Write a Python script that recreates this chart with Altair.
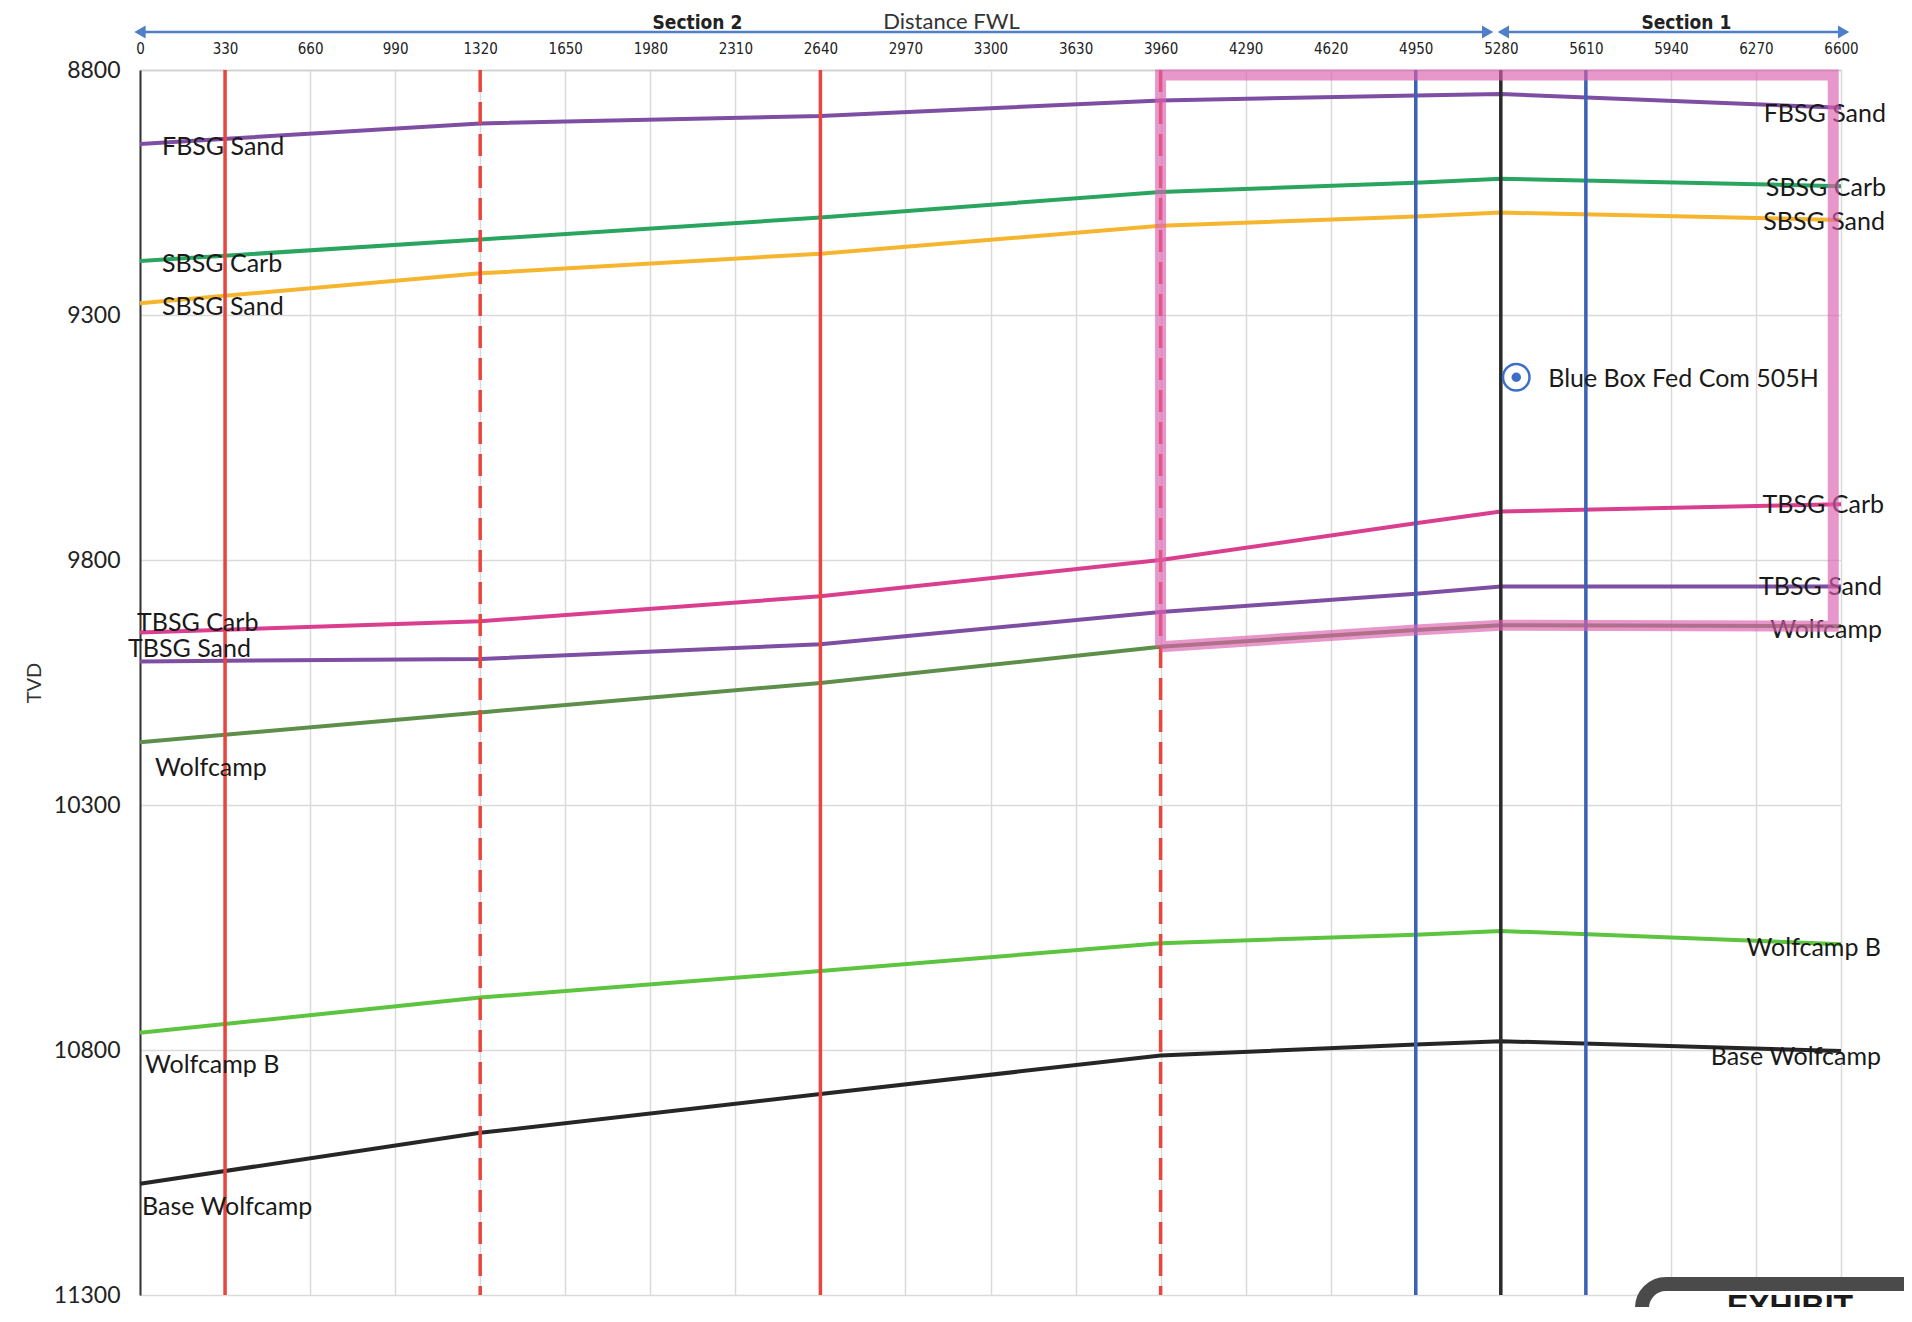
import altair as alt
import pandas as pd

# ---------------- data ----------------
x_stations = [0, 1320, 2640, 3960, 4950, 5280, 6600]

horizons = ["FBSG Sand", "SBSG Carb", "SBSG Sand", "TBSG Carb",
            "TBSG Sand", "Wolfcamp", "Wolfcamp B", "Base Wolfcamp"]

fbsg_sand     = [8951, 8909, 8894, 8862, 8852, 8849, 8877]
sbsg_carb     = [9190, 9146, 9101, 9049, 9030, 9022, 9037]
sbsg_sand     = [9276, 9215, 9175, 9118, 9099, 9091, 9106]
tbsg_carb     = [9948, 9925, 9874, 9800, 9725, 9701, 9686]
tbsg_sand     = [10007, 10002, 9972, 9906, 9869, 9854, 9854]
wolfcamp      = [10172, 10111, 10051, 9977, 9943, 9933, 9935]
wolfcamp_b    = [10765, 10693, 10639, 10582, 10565, 10557, 10584]
base_wolfcamp = [11073, 10969, 10890, 10811, 10789, 10782, 10802]

series = [fbsg_sand, sbsg_carb, sbsg_sand, tbsg_carb,
          tbsg_sand, wolfcamp, wolfcamp_b, base_wolfcamp]

horizon_colors = ["#7e4ea3", "#2aa55f", "#f5b52f", "#d93f8e",
                  "#7e4ea3", "#5e8f4a", "#5cc43e", "#262626"]

red_solid_x = [330, 2640]
red_dashed_x = [1320, 3960]
blue_x = [4950, 5610]
black_x = [5280]

x_ticks = list(range(0, 6601, 330))
y_ticks = [8800, 9300, 9800, 10300, 10800, 11300]

# highlighted box: left/right edges and top, bottom follows the Wolfcamp top
box_left, box_right, box_top = 3960, 6570, 8810

well_name = ["Blue Box Fed Com 505H"]
well_x = [5340]
well_tvd = [9427]

sections = ["Section 2", "Section 1"]
section_start = [0, 5290]
section_end = [5229, 6610]
section_label_x = [2163, 6000]

# label offsets (style)
left_off = [(22, 3), (22, 3), (22, 4), (-3, -10), (-12, -12), (15, 26), (5, 32), (2, 23)]
right_off = [(45, 6), (45, 2), (44, 2), (43, 1), (41, 1), (41, 4), (40, 4), (40, 6)]

# ---------------- chart ----------------
W, H = 1701, 1225
LABEL_FONT = "Lato"

rows = []
for name, vals in zip(horizons, series):
    for x, v in zip(x_stations, vals):
        rows.append({"name": name, "x": x, "tvd": v})
df = pd.DataFrame(rows)

xs = alt.Scale(domain=[0, 6600], nice=False, zero=False)
ys = alt.Scale(domain=[8800, 11300], reverse=True, nice=False, zero=False)

top_axis = alt.Axis(
    orient="top", values=x_ticks, grid=True, gridColor="#dadada", gridWidth=1.5,
    ticks=False, domain=True, domainColor="#cfcfcf", domainWidth=1.5,
    labelFont="DejaVu Sans Condensed", labelFontSize=15, labelColor="#222",
    labelPadding=14, labelFlush=False, format="d",
    title="Distance FWL", titleFont=LABEL_FONT, titleFontSize=22,
    titleFontWeight="normal", titleColor="#333", titleX=811, titleY=-49,
    titleBaseline="middle",
)
left_axis = alt.Axis(
    orient="left", values=y_ticks, grid=True, gridColor="#dadada", gridWidth=1.5,
    ticks=False, domain=True, domainColor="#333", domainWidth=2,
    labelFont=LABEL_FONT, labelFontSize=23, labelColor="#222", labelPadding=20,
    labelFlush=False, format="d",
    title="TVD", titleFont=LABEL_FONT, titleFontSize=20, titleFontWeight="normal",
    titleColor="#333", titleX=-106, titleBaseline="middle",
)


def ex(field):
    return alt.X(field, scale=xs, axis=top_axis)


def ey(field):
    return alt.Y(field, scale=ys, axis=left_axis)


lines = alt.Chart(df).mark_line(strokeWidth=4).encode(
    x=ex("x:Q"),
    y=ey("tvd:Q"),
    color=alt.Color("name:N", scale=alt.Scale(domain=horizons, range=horizon_colors), legend=None),
    detail="name:N",
)


def vrules(xvals, color, dash=None):
    d = pd.DataFrame({"x": xvals})
    kw = dict(color=color, strokeWidth=3.5)
    if dash:
        kw["strokeDash"] = dash
    return alt.Chart(d).mark_rule(**kw).encode(x=ex("x:Q"))


layers = [lines,
          vrules(red_solid_x, "#e8453c"),
          vrules(red_dashed_x, "#e8453c", [22, 10]),
          vrules(blue_x, "#3b62b5"),
          vrules(black_x, "#2b2b2b")]

for name, vals, lo, ro in zip(horizons, series, left_off, right_off):
    dl = pd.DataFrame({"x": [x_stations[0]], "tvd": [vals[0]], "label": [name]})
    dr = pd.DataFrame({"x": [x_stations[-1]], "tvd": [vals[-1]], "label": [name]})
    layers.append(alt.Chart(dl).mark_text(
        align="left", baseline="middle", dx=lo[0], dy=lo[1], font=LABEL_FONT,
        fontSize=25, color="#1a1a1a").encode(
        x=ex("x:Q"), y=ey("tvd:Q"), text="label:N"))
    layers.append(alt.Chart(dr).mark_text(
        align="right", baseline="middle", dx=ro[0], dy=ro[1], font=LABEL_FONT,
        fontSize=25, color="#1a1a1a").encode(
        x=ex("x:Q"), y=ey("tvd:Q"), text="label:N"))

# highlight box path
wc_at = dict(zip(x_stations, wolfcamp))
box_pts = [(box_left, wc_at[3960]), (box_left, box_top), (box_right, box_top),
           (box_right, wc_at[6600]), (5280, wc_at[5280]), (4950, wc_at[4950]),
           (box_left, wc_at[3960])]
df_box = pd.DataFrame({"x": [p[0] for p in box_pts], "tvd": [p[1] for p in box_pts],
                       "seq": list(range(len(box_pts)))})
layers.append(alt.Chart(df_box).mark_line(color="#dc5fae", opacity=0.65, strokeWidth=11,
                                          strokeJoin="miter").encode(
    x=ex("x:Q"), y=ey("tvd:Q"), order="seq:Q"))

# well marker
df_well = pd.DataFrame({"x": well_x, "tvd": well_tvd, "label": well_name})
layers.append(alt.Chart(df_well).mark_point(shape="circle", size=700, filled=True,
                                            fill="white", stroke="#3d6fc8", strokeWidth=2.5,
                                            opacity=1).encode(
    x=ex("x:Q"), y=ey("tvd:Q")))
layers.append(alt.Chart(df_well).mark_point(shape="circle", size=90, filled=True,
                                            color="#3d6fc8", opacity=1).encode(
    x=ex("x:Q"), y=ey("tvd:Q")))
layers.append(alt.Chart(df_well).mark_text(align="left", baseline="middle", dx=32, dy=2,
                                           font=LABEL_FONT, fontSize=25, color="#1a1a1a").encode(
    x=ex("x:Q"), y=ey("tvd:Q"), text="label:N"))

# section arrows
ARROW_Y = -38
df_sec = pd.DataFrame({"section": sections, "x0": section_start, "x1": section_end,
                       "lx": section_label_x})
layers.append(alt.Chart(df_sec).mark_rule(color="#4f7fc6", strokeWidth=2.5).encode(
    x=ex("x0:Q"), x2="x1:Q", y=alt.value(ARROW_Y)))
heads = pd.DataFrame({
    "x": section_start + section_end,
    "dir": ["left"] * len(section_start) + ["right"] * len(section_end),
})
layers.append(alt.Chart(heads).mark_point(filled=True, size=170, color="#4f7fc6",
                                          opacity=1).encode(
    x=ex("x:Q"), y=alt.value(ARROW_Y),
    shape=alt.Shape("dir:N", scale=alt.Scale(domain=["left", "right"],
                                             range=["triangle-left", "triangle-right"]),
                    legend=None)))
layers.append(alt.Chart(df_sec).mark_text(font="DejaVu Sans Condensed", fontSize=19,
                                          fontWeight="bold", color="#222",
                                          baseline="middle").encode(
    x=ex("lx:Q"), y=alt.value(ARROW_Y - 9), text="section:N"))

# exhibit stamp (partially visible at bottom right)
one = pd.DataFrame({"t": ["EXHIBIT"]})
layers.append(alt.Chart(one).mark_rect(fill="white", stroke="#4a4a4a", strokeWidth=14,
                                       cornerRadius=24).encode(
    x=alt.value(1502), x2=alt.value(1900), y=alt.value(1214), y2=alt.value(1320)))
layers.append(alt.Chart(one).mark_text(font="Liberation Sans", fontSize=32, fontWeight="bold",
                                       color="#1a1a1a", baseline="top", align="center").encode(
    x=alt.value(1650), y=alt.value(1222), text="t:N"))

chart = alt.layer(*layers).properties(
    width=W, height=H,
    autosize=alt.AutoSizeParams(type="none"),
    padding={"left": 132, "top": 62, "right": 63, "bottom": 12},
    background="white",
).configure_view(stroke=None)

chart.save("out.html", embed_options={"renderer": "svg", "actions": False})
